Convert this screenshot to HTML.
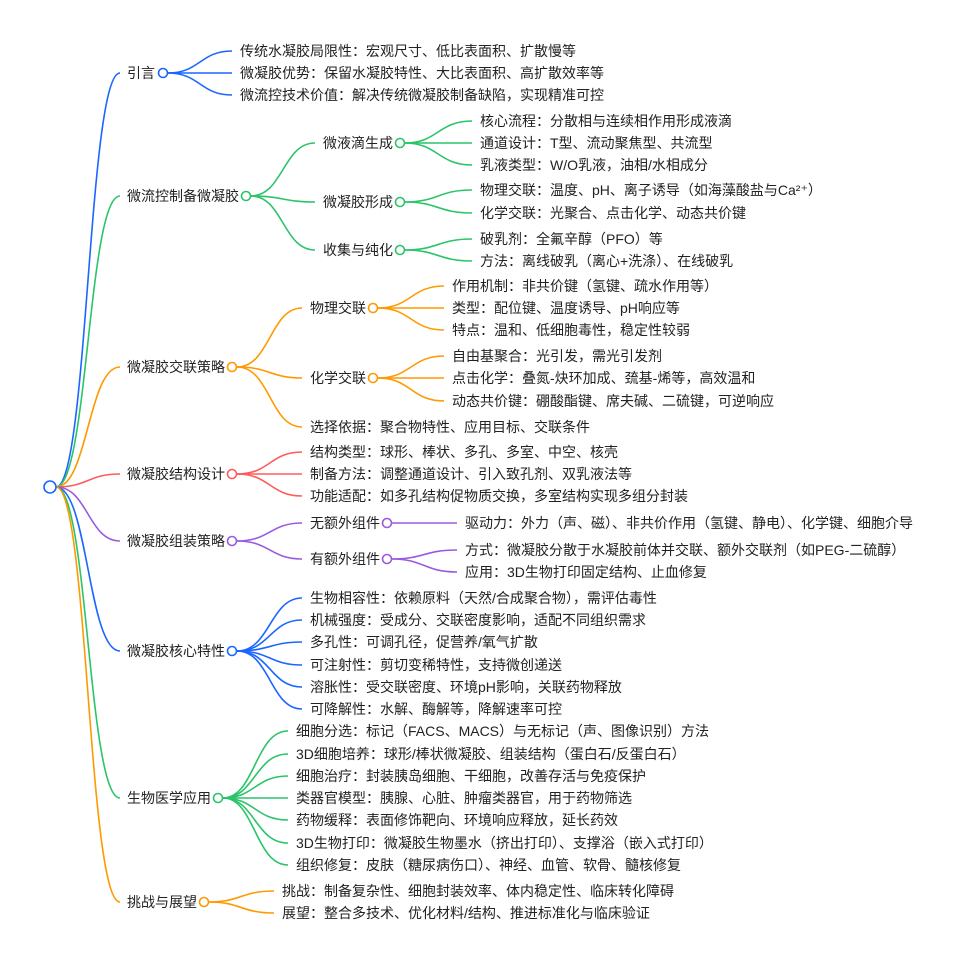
<!DOCTYPE html>
<html><head><meta charset="utf-8"><style>
html,body{margin:0;padding:0;background:#fff;}
svg text{font-family:"Liberation Sans","Noto Sans CJK SC",sans-serif;font-size:14px;fill:#222;dominant-baseline:central;}
path{fill:none;stroke-width:1.6;}
circle{fill:#fff;stroke-width:1.6;}
.b{stroke:#1a66ff}.g{stroke:#2bc46a}.o{stroke:#ff9900}.r{stroke:#ff5b5b}.p{stroke:#9a5ae0}
</style></head><body>
<svg width="955" height="963" xmlns="http://www.w3.org/2000/svg">
<!-- root edges -->
<path class="b" d="M56 487 C88 487,88 73,120 73"/>
<path class="g" d="M56 487 C88 487,88 196,120 196"/>
<path class="o" d="M56 487 C88 487,88 367,120 367"/>
<path class="r" d="M56 487 C88 487,88 474,120 474"/>
<path class="p" d="M56 487 C88 487,88 541,120 541"/>
<path class="b" d="M56 487 C88 487,88 651,120 651"/>
<path class="g" d="M56 487 C88 487,88 798,120 798"/>
<path class="o" d="M56 487 C88 487,88 902,120 902"/>
<circle class="b" cx="50" cy="487" r="6"/>

<!-- 引言 -->
<text x="127" y="73">引言</text>
<path class="b" d="M168 73 C200 73,200 51,232 51"/>
<path class="b" d="M168 73 L232 73"/>
<path class="b" d="M168 73 C200 73,200 95,232 95"/>
<circle class="b" cx="163" cy="73" r="4.5"/>
<text x="240" y="51">传统水凝胶局限性：宏观尺寸、低比表面积、扩散慢等</text>
<text x="240" y="73">微凝胶优势：保留水凝胶特性、大比表面积、高扩散效率等</text>
<text x="240" y="95">微流控技术价值：解决传统微凝胶制备缺陷，实现精准可控</text>

<!-- 微流控制备微凝胶 -->
<text x="127" y="196">微流控制备微凝胶</text>
<path class="g" d="M251 196 C283 196,283 143,315 143"/>
<path class="g" d="M251 196 C283 196,283 202,315 202"/>
<path class="g" d="M251 196 C283 196,283 250,315 250"/>
<circle class="g" cx="246" cy="196" r="4.5"/>
<text x="323" y="143">微液滴生成</text>
<text x="323" y="202">微凝胶形成</text>
<text x="323" y="250">收集与纯化</text>
<path class="g" d="M405 143 C438 143,438 121,472 121"/>
<path class="g" d="M405 143 L472 143"/>
<path class="g" d="M405 143 C438 143,438 165,472 165"/>
<path class="g" d="M405 202 C438 202,438 190,472 190"/>
<path class="g" d="M405 202 C438 202,438 213,472 213"/>
<path class="g" d="M405 250 C438 250,438 239,472 239"/>
<path class="g" d="M405 250 C438 250,438 261,472 261"/>
<circle class="g" cx="400" cy="143" r="4.5"/>
<circle class="g" cx="400" cy="202" r="4.5"/>
<circle class="g" cx="400" cy="250" r="4.5"/>
<text x="480" y="121">核心流程：分散相与连续相作用形成液滴</text>
<text x="480" y="143">通道设计：T型、流动聚焦型、共流型</text>
<text x="480" y="165">乳液类型：W/O乳液，油相/水相成分</text>
<text x="480" y="190">物理交联：温度、pH、离子诱导（如海藻酸盐与Ca²⁺）</text>
<text x="480" y="213">化学交联：光聚合、点击化学、动态共价键</text>
<text x="480" y="239">破乳剂：全氟辛醇（PFO）等</text>
<text x="480" y="261">方法：离线破乳（离心+洗涤）、在线破乳</text>

<!-- 交联策略 -->
<text x="127" y="367">微凝胶交联策略</text>
<path class="o" d="M237 367 C270 367,270 308,302 308"/>
<path class="o" d="M237 367 C270 367,270 378,302 378"/>
<path class="o" d="M237 367 C270 367,270 427,302 427"/>
<circle class="o" cx="232" cy="367" r="4.5"/>
<text x="310" y="308">物理交联</text>
<text x="310" y="378">化学交联</text>
<text x="310" y="427">选择依据：聚合物特性、应用目标、交联条件</text>
<path class="o" d="M378 308 C411 308,411 286,444 286"/>
<path class="o" d="M378 308 L444 308"/>
<path class="o" d="M378 308 C411 308,411 330,444 330"/>
<path class="o" d="M378 378 C411 378,411 356,444 356"/>
<path class="o" d="M378 378 L444 378"/>
<path class="o" d="M378 378 C411 378,411 401,444 401"/>
<circle class="o" cx="373" cy="308" r="4.5"/>
<circle class="o" cx="373" cy="378" r="4.5"/>
<text x="452" y="286">作用机制：非共价键（氢键、疏水作用等）</text>
<text x="452" y="308">类型：配位键、温度诱导、pH响应等</text>
<text x="452" y="330">特点：温和、低细胞毒性，稳定性较弱</text>
<text x="452" y="356">自由基聚合：光引发，需光引发剂</text>
<text x="452" y="378">点击化学：叠氮-炔环加成、巯基-烯等，高效温和</text>
<text x="452" y="401">动态共价键：硼酸酯键、席夫碱、二硫键，可逆响应</text>

<!-- 结构设计 -->
<text x="127" y="474">微凝胶结构设计</text>
<path class="r" d="M237 474 C270 474,270 452,302 452"/>
<path class="r" d="M237 474 L302 474"/>
<path class="r" d="M237 474 C270 474,270 496,302 496"/>
<circle class="r" cx="232" cy="474" r="4.5"/>
<text x="310" y="452">结构类型：球形、棒状、多孔、多室、中空、核壳</text>
<text x="310" y="474">制备方法：调整通道设计、引入致孔剂、双乳液法等</text>
<text x="310" y="496">功能适配：如多孔结构促物质交换，多室结构实现多组分封装</text>

<!-- 组装策略 -->
<text x="127" y="541">微凝胶组装策略</text>
<path class="p" d="M237 541 C270 541,270 523,302 523"/>
<path class="p" d="M237 541 C270 541,270 559,302 559"/>
<circle class="p" cx="232" cy="541" r="4.5"/>
<text x="310" y="523">无额外组件</text>
<text x="310" y="559">有额外组件</text>
<path class="p" d="M392 523 L457 523"/>
<path class="p" d="M392 559 C424 559,424 550,457 550"/>
<path class="p" d="M392 559 C424 559,424 572,457 572"/>
<circle class="p" cx="387" cy="523" r="4.5"/>
<circle class="p" cx="387" cy="559" r="4.5"/>
<text x="465" y="523">驱动力：外力（声、磁）、非共价作用（氢键、静电）、化学键、细胞介导</text>
<text x="465" y="550">方式：微凝胶分散于水凝胶前体并交联、额外交联剂（如PEG-二硫醇）</text>
<text x="465" y="572">应用：3D生物打印固定结构、止血修复</text>

<!-- 核心特性 -->
<text x="127" y="651">微凝胶核心特性</text>
<path class="b" d="M237 651 C270 651,270 598,302 598"/>
<path class="b" d="M237 651 C270 651,270 620,302 620"/>
<path class="b" d="M237 651 C270 651,270 642,302 642"/>
<path class="b" d="M237 651 C270 651,270 665,302 665"/>
<path class="b" d="M237 651 C270 651,270 687,302 687"/>
<path class="b" d="M237 651 C270 651,270 709,302 709"/>
<circle class="b" cx="232" cy="651" r="4.5"/>
<text x="310" y="598">生物相容性：依赖原料（天然/合成聚合物），需评估毒性</text>
<text x="310" y="620">机械强度：受成分、交联密度影响，适配不同组织需求</text>
<text x="310" y="642">多孔性：可调孔径，促营养/氧气扩散</text>
<text x="310" y="665">可注射性：剪切变稀特性，支持微创递送</text>
<text x="310" y="687">溶胀性：受交联密度、环境pH影响，关联药物释放</text>
<text x="310" y="709">可降解性：水解、酶解等，降解速率可控</text>

<!-- 生物医学应用 -->
<text x="127" y="798">生物医学应用</text>
<path class="g" d="M223 798 C255 798,255 731,288 731"/>
<path class="g" d="M223 798 C255 798,255 754,288 754"/>
<path class="g" d="M223 798 C255 798,255 776,288 776"/>
<path class="g" d="M223 798 L288 798"/>
<path class="g" d="M223 798 C255 798,255 820,288 820"/>
<path class="g" d="M223 798 C255 798,255 843,288 843"/>
<path class="g" d="M223 798 C255 798,255 865,288 865"/>
<circle class="g" cx="218" cy="798" r="4.5"/>
<text x="296" y="731">细胞分选：标记（FACS、MACS）与无标记（声、图像识别）方法</text>
<text x="296" y="754">3D细胞培养：球形/棒状微凝胶、组装结构（蛋白石/反蛋白石）</text>
<text x="296" y="776">细胞治疗：封装胰岛细胞、干细胞，改善存活与免疫保护</text>
<text x="296" y="798">类器官模型：胰腺、心脏、肿瘤类器官，用于药物筛选</text>
<text x="296" y="820">药物缓释：表面修饰靶向、环境响应释放，延长药效</text>
<text x="296" y="843">3D生物打印：微凝胶生物墨水（挤出打印）、支撑浴（嵌入式打印）</text>
<text x="296" y="865">组织修复：皮肤（糖尿病伤口）、神经、血管、软骨、髓核修复</text>

<!-- 挑战与展望 -->
<text x="127" y="902">挑战与展望</text>
<path class="o" d="M209 902 C241 902,241 891,274 891"/>
<path class="o" d="M209 902 C241 902,241 913,274 913"/>
<circle class="o" cx="204" cy="902" r="4.5"/>
<text x="282" y="891">挑战：制备复杂性、细胞封装效率、体内稳定性、临床转化障碍</text>
<text x="282" y="913">展望：整合多技术、优化材料/结构、推进标准化与临床验证</text>
</svg>
</body></html>
